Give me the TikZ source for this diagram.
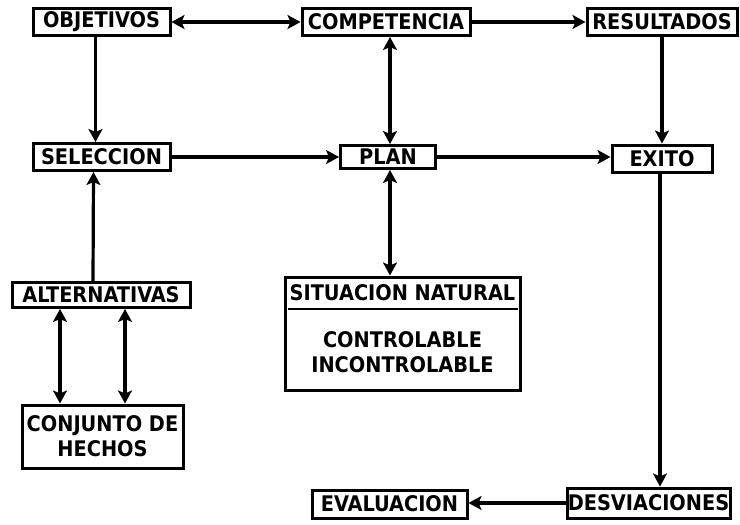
\documentclass[tikz,border=0pt]{standalone}
\usepackage{fontspec}
\setmainfont{DejaVu Sans Condensed}
\usetikzlibrary{arrows.meta}
\begin{document}
\begin{tikzpicture}[x=1pt,y=-1pt,
  txt/.style={font=\bfseries\fontsize{21.5}{24}\selectfont},
  box/.style={draw,line width=3pt,inner sep=0pt,txt,align=center},
  conn/.style={line width=3.2pt,-{Stealth[length=13pt,width=14pt,inset=3pt]}},
  dconn/.style={line width=3.2pt,{Stealth[length=13pt,width=14pt,inset=3pt]}-{Stealth[length=13pt,width=14pt,inset=3pt]}}]
\useasboundingbox (0,0) rectangle (740,525);
\node[box,minimum width=137pt,minimum height=27pt] (obj) at (101.5,22) {OBJETIVOS};
\node[box,minimum width=168pt,minimum height=27pt] (comp) at (386,22) {COMPETENCIA};
\node[box,minimum width=150pt,minimum height=27pt] (res) at (662,22) {RESULTADOS};
\node[box,minimum width=137pt,minimum height=27pt] (sel) at (101.5,157) {SELECCION};
\node[box,minimum width=95pt,minimum height=23pt] (plan) at (388,157) {PLAN};
\node[box,minimum width=100pt,minimum height=27pt] (exito) at (662,158.5) {EXITO};
\node[box,minimum width=178pt,minimum height=25pt] (alt) at (101,295) {ALTERNATIVAS};
\node[box,minimum width=161pt,minimum height=63pt,font=\bfseries\fontsize{21.5}{25}\selectfont] (conj) at (102.5,436.5) {CONJUNTO DE\\HECHOS};
\node[box,minimum width=235pt,minimum height=113pt] (sit) at (402.5,333.5) {};
\node[txt] (sitt) at (402.5,293) {SITUACION NATURAL};
\node[font=\bfseries\fontsize{21.5}{25}\selectfont,align=center] (sitb) at (402.5,352) {CONTROLABLE\\INCONTROLABLE};
\draw[line width=2.6pt] (sit.west |- 0,309) ++(4,0) coordinate (dl) -- ([xshift=-4pt]sit.east |- dl);
\node[box,minimum width=155pt,minimum height=28pt] (eval) at (389.5,504) {EVALUACION};
\node[box,minimum width=163pt,minimum height=30pt] (desv) at (648.5,503) {DESVIACIONES};
% connectors
\draw[dconn] (obj.east) -- (comp.west);
\draw[conn] (comp.east) -- (res.west);
\draw[conn] ([xshift=-6pt]obj.south) -- ([xshift=-6pt]sel.north);
\draw[conn] ([xshift=-8pt]alt.north) -- ([xshift=-8pt]sel.south);
\draw[conn] (sel.east) -- (plan.west);
\draw[conn] (plan.east) -- (plan.east -| exito.west);
\draw[dconn] ([xshift=2pt]plan.north) -- ([xshift=2pt]plan.north |- comp.south);
\draw[dconn] ([xshift=2pt]plan.south) -- ([xshift=2pt]plan.south |- sit.north);
\draw[conn] (res.south) -- (exito.north);
\draw[conn] ([xshift=-2pt]exito.south) -- ([xshift=-2pt]exito.south |- desv.north);
\draw[conn] (desv.west) -- (desv.west -| eval.east);
\draw[dconn] ([xshift=-41pt]alt.south) -- ([xshift=-41pt]alt.south |- conj.north);
\draw[dconn] ([xshift=24pt]alt.south) -- ([xshift=24pt]alt.south |- conj.north);
\end{tikzpicture}
\end{document}
